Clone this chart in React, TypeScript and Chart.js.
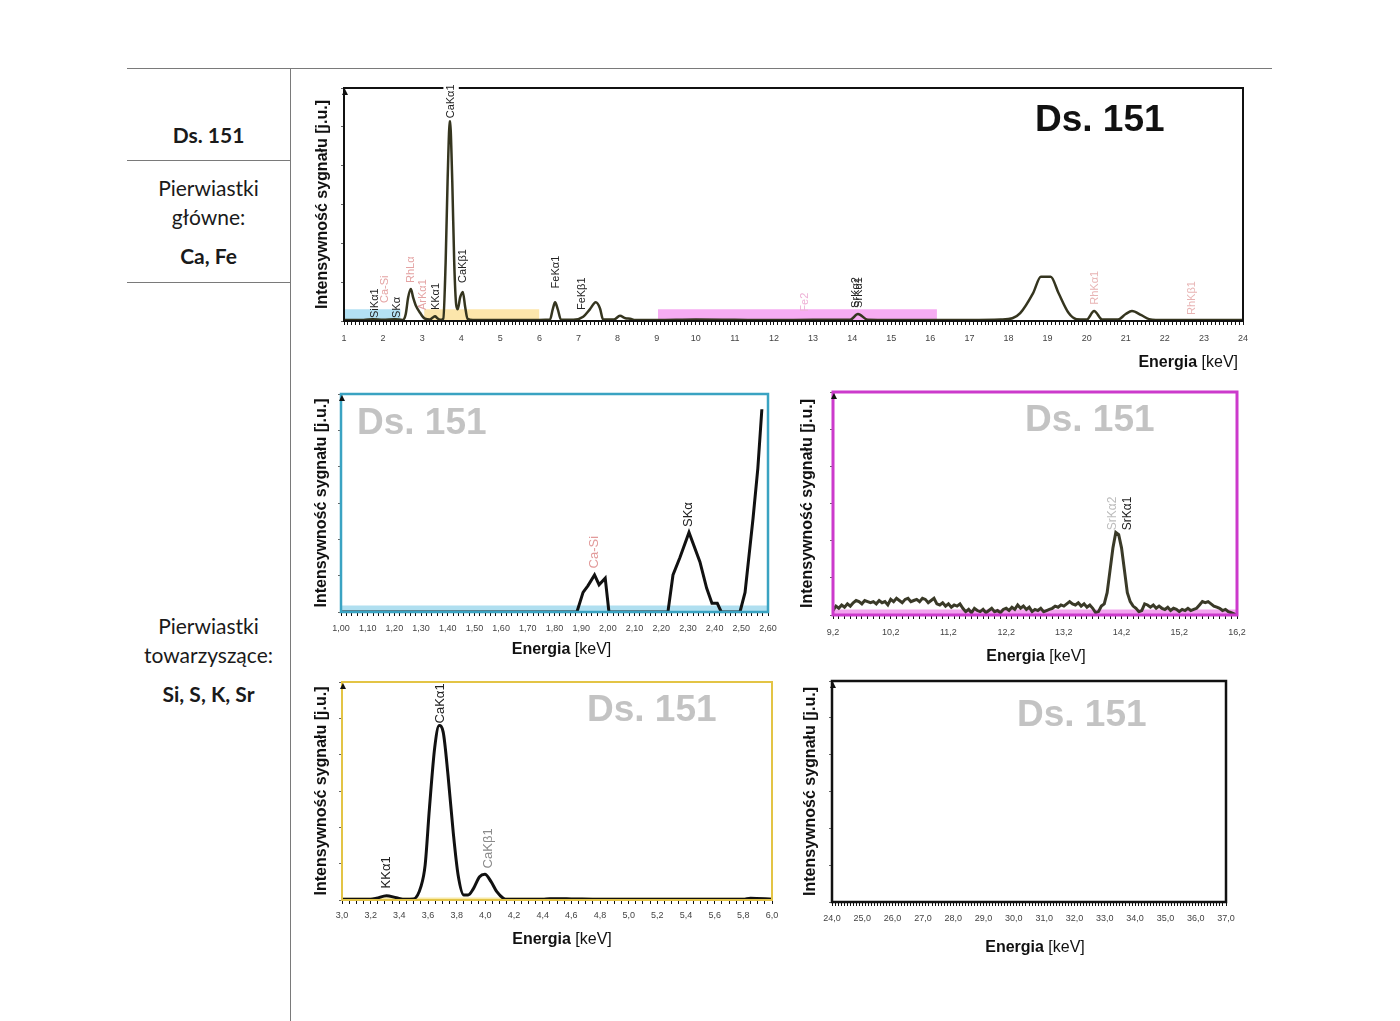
import React, { useEffect, useRef } from 'react';
import { Chart, registerables } from 'chart.js';

Chart.register(...registerables);

const FONT = '"Liberation Sans", Arial, sans-serif';

// ---------- Main spectrum 1–24 keV ----------
const mainTickLabels = ['1','2','3','4','5','6','7','8','9','10','11','12','13','14','15','16','17','18','19','20','21','22','23','24'];
const mainEnergy = [1.0,1.5,1.74,2.0,2.3,2.5,2.58,2.64,2.71,2.77,2.84,2.95,3.07,3.2,3.27,3.33,3.39,3.47,3.54,3.6,3.65,3.71,3.77,3.82,3.87,3.91,3.97,4.04,4.1,4.16,4.3,5.0,6.0,6.27,6.34,6.4,6.47,6.55,6.87,7.12,7.29,7.44,7.55,7.63,7.9,8.06,8.2,8.32,8.45,9.0,10.0,11.0,12.0,13.0,13.95,14.15,14.4,15.0,16.0,17.0,17.8,18.1,18.3,18.63,18.83,19.08,19.28,19.54,19.74,20.0,20.19,20.4,20.8,21.0,21.16,21.4,21.6,22.0,23.0,24.0];
const mainIntensity = [0.004,0.004,0.008,0.005,0.008,0.004,0.03,0.1,0.137,0.1,0.065,0.034,0.01,0.006,0.015,0.02,0.012,0.005,0.01,0.25,0.6,0.863,0.6,0.25,0.07,0.05,0.1,0.125,0.06,0.01,0.004,0.004,0.004,0.006,0.05,0.08,0.05,0.006,0.005,0.018,0.05,0.08,0.054,0.006,0.006,0.022,0.012,0.01,0.004,0.004,0.006,0.005,0.004,0.005,0.005,0.03,0.005,0.004,0.004,0.004,0.006,0.012,0.034,0.12,0.19,0.19,0.12,0.034,0.008,0.006,0.043,0.006,0.006,0.03,0.043,0.025,0.008,0.004,0.004,0.004];
const mainBands = [
  { from: 1.0, to: 2.45, h: 0.05, color: '#b3e1f3' },
  { from: 3.05, to: 6.0, h: 0.05, color: '#fce6ab' },
  { from: 9.03, to: 16.17, h: 0.05, color: '#f6acf2' },
];
const mainLabels = [
  { text: 'SiKα1', e: 1.79, y: 0.013, color: '#222' },
  { text: 'Ca-Si', e: 2.05, y: 0.077, color: '#e4a3a3' },
  { text: 'SKα', e: 2.36, y: 0.013, color: '#222' },
  { text: 'RhLα', e: 2.72, y: 0.163, color: '#e4a3a3' },
  { text: 'ArKα1', e: 3.02, y: 0.047, color: '#e4a3a3' },
  { text: 'KKα1', e: 3.35, y: 0.047, color: '#222' },
  { text: 'CaKα1', e: 3.74, y: 0.87, color: '#222', bg: true },
  { text: 'CaKβ1', e: 4.04, y: 0.163, color: '#222' },
  { text: 'FeKα1', e: 6.42, y: 0.14, color: '#222' },
  { text: 'FeKβ1', e: 7.09, y: 0.047, color: '#222' },
  { text: 'Fe2', e: 12.8, y: 0.04, color: '#eeb0d6' },
  { text: 'SrKα2', e: 14.1, y: 0.056, color: '#222' },
  { text: 'SrKα1', e: 14.17, y: 0.056, color: '#222' },
  { text: 'RhKα1', e: 20.2, y: 0.07, color: '#e8b4b4' },
  { text: 'RhKβ1', e: 22.7, y: 0.026, color: '#e8b4b4' },
];

// ---------- Si / S region 1.00–2.60 keV ----------
const siTickLabels = ['1,00','1,10','1,20','1,30','1,40','1,50','1,60','1,70','1,80','1,90','2,00','2,10','2,20','2,30','2,40','2,50','2,60'];
const siEnergy = [1.0,1.884,1.907,1.925,1.95,1.967,1.99,2.004,2.225,2.244,2.27,2.304,2.345,2.37,2.39,2.41,2.425,2.495,2.514,2.544,2.562,2.577];
const siIntensity = [0,0,0.09,0.12,0.17,0.125,0.155,0,0,0.17,0.25,0.365,0.23,0.11,0.04,0.04,0,0,0.09,0.43,0.66,0.93];
const siLabels = [
  { text: 'Ca-Si', e: 1.95, y: 0.2, color: '#e29a9a' },
  { text: 'SKα', e: 2.3, y: 0.39, color: '#222' },
];

// ---------- Sr region 9.2–16.2 keV (channels every 0.05 keV) ----------
const srTickLabels = ['9,2','10,2','11,2','12,2','13,2','14,2','15,2','16,2'];
const srEnergyStart = 9.2;
const srEnergyStep = 0.05;
const srIntensity = [
  0.02,0.04,0.03,0.045,0.035,0.05,0.04,
  0.055,0.065,0.06,0.05,0.065,0.06,0.055,0.06,0.05,0.065,0.055,0.06,0.045,
  0.07,0.06,0.075,0.065,0.055,0.07,0.075,0.06,0.065,0.07,0.06,0.075,0.07,0.055,0.065,0.075,
  0.05,0.045,0.055,0.04,0.05,0.035,0.045,0.04,0.05,0.03,
  0.015,0.025,0.01,0.03,0.02,0.015,0.025,0.01,0.02,0.03,0.015,0.02,0.01,0.025,0.03,0.02,0.035,0.025,0.045,0.03,0.04,0.025,0.035,0.015,0.025,0.02,0.03,0.015,0.02,0.025,
  0.03,0.04,0.035,0.045,0.04,0.05,0.06,0.05,0.045,0.055,0.04,0.05,0.035,0.045,
  0.03,0.01,0.015,0.04,0.05,0.1,0.2,0.3,0.37,0.36,0.3,0.2,0.1,0.06,0.04,0.03,
  0.015,0.02,0.05,0.045,0.035,0.045,0.03,0.04,0.03,0.025,0.035,0.02,0.03,0.025,0.015,0.025,0.02,0.03,0.02,0.025,0.03,0.045,0.06,0.055,0.06,0.05,0.04,0.035,0.03,0.02,0.025,0.015,0.01,0.005,0.0,
];
const srLabels = [
  { text: 'SrKα2', e: 14.05, y: 0.38, color: '#bdbdbd' },
  { text: 'SrKα1', e: 14.3, y: 0.38, color: '#222' },
];

// ---------- K / Ca region 3.0–6.0 keV ----------
const caTickLabels = ['3,0','3,2','3,4','3,6','3,8','4,0','4,2','4,4','4,6','4,8','5,0','5,2','5,4','5,6','5,8','6,0'];
const caEnergy = [3.0,3.2,3.24,3.31,3.38,3.44,3.5,3.55,3.58,3.61,3.647,3.678,3.706,3.74,3.776,3.81,3.85,3.88,3.915,3.96,3.997,4.04,4.08,4.125,4.15,4.4,4.45,4.6,4.8,5.8,5.85,6.0];
const caIntensity = [0.004,0.004,0.008,0.02,0.01,0.003,0.005,0.06,0.16,0.42,0.70,0.80,0.77,0.57,0.31,0.115,0.023,0.023,0.05,0.107,0.118,0.084,0.038,0.008,0.003,0.003,0.006,0.005,0.003,0.003,0.008,0.004];
const caLabels = [
  { text: 'KKα1', e: 3.31, y: 0.053, color: '#222' },
  { text: 'CaKα1', e: 3.69, y: 0.81, color: '#222' },
  { text: 'CaKβ1', e: 4.02, y: 0.145, color: '#8a8a8a' },
];

// ---------- High region 24–37 keV ----------
const hiTickLabels = ['24,0','25,0','26,0','27,0','28,0','29,0','30,0','31,0','32,0','33,0','34,0','35,0','36,0','37,0'];
const hiEnergy: number[] = [];
const hiIntensity: number[] = [];

type Band = { from: number; to: number; h: number; color: string };
type PeakLabel = { text: string; e: number; y: number; color: string; bg?: boolean };

type SpecProps = {
  area: [number, number, number, number];
  titleX: number;
  xStep: number;
  tickLabels: string[];
  tickPad: number;
  energy: number[];
  intensity: number[];
  lineColor: string;
  lineWidth: number;
  smooth: boolean;
  frameColor: string;
  frameWidth: number;
  bands: Band[];
  labels: PeakLabel[];
  labelSize: number;
  mark: { dx: number; dy: number; color: string };
  xTitle: { align: 'center' | 'right'; dx: number; dy: number };
};

const PAD_TOP = 14;
const PAD_RIGHT = 20;
const X_H = 56;

function Spectrum(p: SpecProps) {
  const ref = useRef<HTMLCanvasElement>(null);
  const [L, T, R, B] = p.area;
  const left = p.titleX - 10;
  const top = T - PAD_TOP;
  const width = R + PAD_RIGHT - left;
  const height = B + X_H - top;

  useEffect(() => {
    const tickVals = p.tickLabels.map((s) => parseFloat(s.replace(',', '.')));
    const xMin = tickVals[0];
    const xMax = tickVals[tickVals.length - 1];
    const deco = {
      id: 'deco',
      beforeDatasetsDraw(chart: any) {
        const { ctx, chartArea: a } = chart;
        ctx.save();
        ctx.font = `bold 37px ${FONT}`;
        ctx.fillStyle = p.mark.color;
        ctx.textBaseline = 'middle';
        ctx.textAlign = 'left';
        ctx.fillText('Ds. 151', a.left + p.mark.dx, a.top + p.mark.dy);
        ctx.restore();
      },
      afterDatasetsDraw(chart: any) {
        const { ctx, chartArea: a, scales } = chart;
        const xs = scales.x;
        const ys = scales.y;
        ctx.save();
        ctx.strokeStyle = p.frameColor;
        ctx.lineWidth = p.frameWidth;
        ctx.strokeRect(a.left, a.top, a.right - a.left, a.bottom - a.top);
        ctx.fillStyle = '#111';
        ctx.beginPath();
        ctx.moveTo(a.left + 1, a.top + 1);
        ctx.lineTo(a.left - 2, a.top + 7);
        ctx.lineTo(a.left + 4, a.top + 7);
        ctx.closePath();
        ctx.fill();
        ctx.font = `${p.labelSize}px ${FONT}`;
        ctx.textAlign = 'left';
        ctx.textBaseline = 'middle';
        for (const l of p.labels) {
          const x = xs.getPixelForValue(l.e);
          const y = ys.getPixelForValue(l.y);
          ctx.save();
          ctx.translate(x, y);
          ctx.rotate(-Math.PI / 2);
          if (l.bg) {
            const w = ctx.measureText(l.text).width;
            ctx.fillStyle = '#fff';
            ctx.fillRect(-2, -p.labelSize * 0.7, w + 5, p.labelSize * 1.4);
          }
          ctx.fillStyle = l.color;
          ctx.fillText(l.text, 0, 0);
          ctx.restore();
        }
        ctx.restore();
      },
      afterDraw(chart: any) {
        const { ctx, chartArea: a } = chart;
        ctx.save();
        ctx.font = `bold 16px ${FONT}`;
        const w1 = ctx.measureText('Energia').width;
        ctx.font = `16px ${FONT}`;
        const w2 = ctx.measureText(' [keV]').width;
        const total = w1 + w2;
        const x0 = p.xTitle.align === 'right'
          ? a.right + p.xTitle.dx - total
          : (a.left + a.right) / 2 + p.xTitle.dx - total / 2;
        const y = a.bottom + p.xTitle.dy;
        ctx.textAlign = 'left';
        ctx.textBaseline = 'middle';
        ctx.fillStyle = '#111';
        ctx.font = `bold 16px ${FONT}`;
        ctx.fillText('Energia', x0, y);
        ctx.font = `16px ${FONT}`;
        ctx.fillText(' [keV]', x0 + w1, y);
        ctx.restore();
      },
    };

    const datasets: any[] = [
      {
        data: p.energy.map((e, i) => ({ x: e, y: p.intensity[i] })),
        borderColor: p.lineColor,
        borderWidth: p.lineWidth,
        pointRadius: 0,
        fill: false,
        tension: p.smooth ? 0.4 : 0,
        cubicInterpolationMode: p.smooth ? 'monotone' : 'default',
        order: 0,
      },
      ...p.bands.map((b) => ({
        data: [{ x: b.from, y: b.h }, { x: b.to, y: b.h }],
        borderWidth: 0,
        borderColor: 'rgba(0,0,0,0)',
        backgroundColor: b.color,
        pointRadius: 0,
        fill: 'origin',
        order: 5,
      })),
    ];

    const chart = new Chart(ref.current as HTMLCanvasElement, {
      type: 'line',
      data: { datasets },
      options: {
        responsive: false,
        animation: false,
        devicePixelRatio: 1,
        events: [],
        layout: { padding: { top: PAD_TOP, right: PAD_RIGHT, left: 0, bottom: 0 } },
        plugins: { legend: { display: false }, tooltip: { enabled: false } },
        scales: {
          x: {
            type: 'linear',
            min: xMin,
            max: xMax,
            afterFit: (s: any) => { s.height = X_H; },
            border: { display: false },
            grid: { drawOnChartArea: false, drawTicks: true, tickLength: 4, color: '#111', lineWidth: 1 },
            ticks: {
              stepSize: p.xStep,
              autoSkip: false,
              maxRotation: 0,
              minRotation: 0,
              padding: p.tickPad,
              color: '#444',
              font: { family: FONT, size: 9 },
              callback: (v: any) => {
                const n = Number(v);
                for (let i = 0; i < tickVals.length; i++) {
                  if (Math.abs(tickVals[i] - n) < 1e-6) return p.tickLabels[i];
                }
                return '';
              },
            },
          },
          y: {
            type: 'linear',
            min: 0,
            max: 1,
            afterFit: (s: any) => { s.width = L - left; },
            border: { display: false },
            grid: { drawOnChartArea: false, drawTicks: true, tickLength: 3, color: '#666' },
            ticks: { display: false, stepSize: 1 / 6 },
            title: {
              display: true,
              text: 'Intensywność sygnału [j.u.]',
              color: '#111',
              padding: 0,
              font: { family: FONT, size: 16, weight: 'bold' },
            },
          },
        },
      } as any,
      plugins: [deco],
    });
    return () => chart.destroy();
  }, []);

  return (
    <canvas
      ref={ref}
      width={width}
      height={height}
      style={{ position: 'absolute', left, top, width, height }}
    />
  );
}

function Cell({ y, bold, children }: { y: number; bold?: boolean; children: React.ReactNode }) {
  return (
    <div
      style={{
        position: 'absolute',
        left: 127,
        width: 163,
        top: y - 14,
        height: 28,
        lineHeight: '28px',
        textAlign: 'center',
        fontFamily: 'Lato, "Open Sans", sans-serif',
        fontSize: 21,
        fontWeight: bold ? 700 : 400,
        color: '#1a1a1a',
        whiteSpace: 'nowrap',
      }}
    >
      {children}
    </div>
  );
}

const srEnergy = srIntensity.map((_, i) => srEnergyStart + i * srEnergyStep);

export default function App() {
  const line = '#7a7a7a';
  return (
    <div style={{ position: 'absolute', left: 0, top: 0, width: 1400, height: 1021, background: '#fff', overflow: 'hidden' }}>
      <div style={{ position: 'absolute', left: 127, top: 68, width: 1145, height: 1, background: line }} />
      <div style={{ position: 'absolute', left: 290, top: 68, width: 1, height: 953, background: line }} />
      <div style={{ position: 'absolute', left: 127, top: 160, width: 163, height: 1, background: line }} />
      <div style={{ position: 'absolute', left: 127, top: 282, width: 163, height: 1, background: line }} />
      <Cell y={135} bold>Ds. 151</Cell>
      <Cell y={188}>Pierwiastki</Cell>
      <Cell y={217}>główne:</Cell>
      <Cell y={256} bold>Ca, Fe</Cell>
      <Cell y={626}>Pierwiastki</Cell>
      <Cell y={655}>towarzyszące:</Cell>
      <Cell y={694} bold>Si, S, K, Sr</Cell>

      <Spectrum
        area={[344, 88, 1243, 321]}
        titleX={323}
        xStep={0.1}
        tickLabels={mainTickLabels}
        tickPad={8}
        energy={mainEnergy}
        intensity={mainIntensity}
        lineColor="#35351f"
        lineWidth={2.5}
        smooth={true}
        frameColor="#111"
        frameWidth={2}
        bands={mainBands}
        labels={mainLabels}
        labelSize={11}
        mark={{ dx: 691, dy: 33, color: '#111' }}
        xTitle={{ align: 'right', dx: -5, dy: 42 }}
      />
      <Spectrum
        area={[341, 394, 768, 612]}
        titleX={322}
        xStep={0.02}
        tickLabels={siTickLabels}
        tickPad={7}
        energy={siEnergy}
        intensity={siIntensity}
        lineColor="#111"
        lineWidth={3}
        smooth={false}
        frameColor="#3aa3c2"
        frameWidth={2.5}
        bands={[{ from: 1.0, to: 2.6, h: 0.03, color: '#b0dff0' }]}
        labels={siLabels}
        labelSize={13}
        mark={{ dx: 16, dy: 30, color: '#c3c3c3' }}
        xTitle={{ align: 'center', dx: 7, dy: 38 }}
      />
      <Spectrum
        area={[833, 392, 1237, 615]}
        titleX={808}
        xStep={0.1}
        tickLabels={srTickLabels}
        tickPad={8}
        energy={srEnergy}
        intensity={srIntensity}
        lineColor="#3a3a28"
        lineWidth={3}
        smooth={false}
        frameColor="#cc3acc"
        frameWidth={3}
        bands={[{ from: 9.2, to: 16.2, h: 0.025, color: '#f2a5ef' }]}
        labels={srLabels}
        labelSize={12}
        mark={{ dx: 192, dy: 29, color: '#c3c3c3' }}
        xTitle={{ align: 'center', dx: 1, dy: 42 }}
      />
      <Spectrum
        area={[342, 682, 772, 900]}
        titleX={322}
        xStep={0.05}
        tickLabels={caTickLabels}
        tickPad={6}
        energy={caEnergy}
        intensity={caIntensity}
        lineColor="#111"
        lineWidth={3}
        smooth={true}
        frameColor="#e3c445"
        frameWidth={2}
        bands={[{ from: 3.0, to: 6.0, h: 0.012, color: '#f7e9a8' }]}
        labels={caLabels}
        labelSize={13}
        mark={{ dx: 245, dy: 29, color: '#c3c3c3' }}
        xTitle={{ align: 'center', dx: 5, dy: 40 }}
      />
      <Spectrum
        area={[832, 681, 1226, 902]}
        titleX={811}
        xStep={0.1}
        tickLabels={hiTickLabels}
        tickPad={7}
        energy={hiEnergy}
        intensity={hiIntensity}
        lineColor="#111"
        lineWidth={3}
        smooth={false}
        frameColor="#111"
        frameWidth={2.5}
        bands={[]}
        labels={[]}
        labelSize={12}
        mark={{ dx: 185, dy: 35, color: '#c3c3c3' }}
        xTitle={{ align: 'center', dx: 6, dy: 46 }}
      />
    </div>
  );
}
